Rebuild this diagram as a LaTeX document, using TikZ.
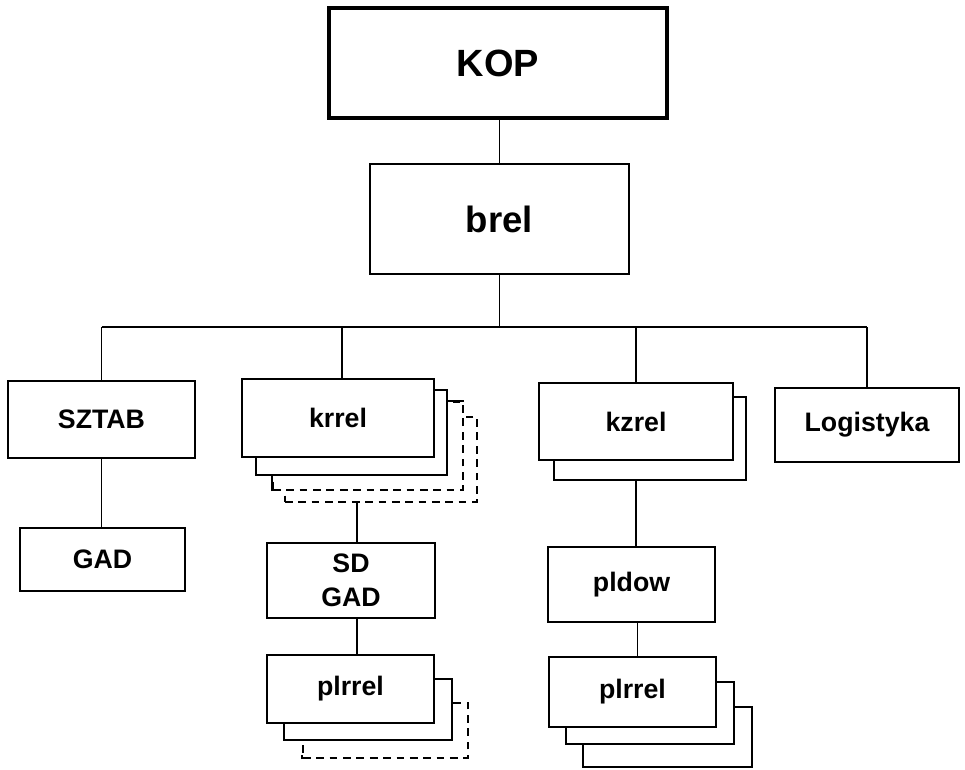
\documentclass[tikz,border=0pt]{standalone}
\usepackage{fontspec}
\setmainfont{Liberation Sans}
\newcommand{\px}{0.025cm}
\tikzset{
  box/.style={draw, line width=1.5pt, fill=white, inner sep=0pt, align=center,
    font=\bfseries\fontsize{19}{24}\selectfont},
  layer/.style={draw, line width=1.5pt, fill=white, inner sep=0pt},
  dashlayer/.style={layer, dash pattern=on 5.5pt off 4pt},
  link/.style={line width=0.9pt}
}
\begin{document}
\begin{tikzpicture}[x=\px, y=-\px]
          \useasboundingbox (0,0) rectangle (965,769);
          % top of the tree
          \node [box, line width=2.4pt, minimum width=338*\px, minimum height=110*\px,
                 font=\bfseries\fontsize{27}{30}\selectfont] (KOP) at (498,63) {KOP};
          \node [box, minimum width=259*\px, minimum height=110*\px,
                 font=\bfseries\fontsize{26}{30}\selectfont] (brel) at (499.5,219) {brel};
          \coordinate (bus) at (500,327);
          % left column
          \node [box, minimum width=187*\px, minimum height=77*\px] (SZTAB) at (101.5,419.5) {SZTAB};
          \node [box, minimum width=165*\px, minimum height=63*\px] (GAD) at (102.5,559.5) {GAD};
          % krrel stack
          \node [dashlayer, minimum width=192*\px, minimum height=85*\px] (krrelD) at (381,459.5) {};
          \node [dashlayer, minimum width=190*\px, minimum height=88*\px] (krrelC) at (368,446) {};
          \draw [line width=1.5pt] (krrelC.south west) |- (krrelC.north east);
          \node [layer, minimum width=191*\px, minimum height=85*\px] (krrelB) at (351.5,432.5) {};
          \node [box, minimum width=192*\px, minimum height=78*\px] (krrel) at (338,418) {krrel};
          \node [box, minimum width=168*\px, minimum height=75*\px] (SDGAD) at (351,580.5) {SD\\GAD};
          % plrrel stack under SD GAD
          \node [dashlayer, minimum width=165*\px, minimum height=55*\px] (plrrelLC) at (385.5,730.5) {};
          \draw [line width=1.5pt] (plrrelLC.south west) -- ++(0,-4);
          \node [layer, minimum width=168*\px, minimum height=61*\px] (plrrelLB) at (368,709.5) {};
          \node [box, minimum width=167*\px, minimum height=68*\px] (plrrelL) at (350.5,689) {plrrel};
          % kzrel stack
          \node [layer, minimum width=192*\px, minimum height=83*\px] (kzrelB) at (650,438.5) {};
          \node [box, minimum width=194*\px, minimum height=77*\px] (kzrel) at (636,421.5) {kzrel};
          \node [box, minimum width=167*\px, minimum height=75*\px] (pldow) at (631.5,584.5) {pldow};
          % plrrel stack under pldow
          \node [layer, minimum width=169*\px, minimum height=60*\px] (plrrelRC) at (667.5,737) {};
          \node [layer, minimum width=168*\px, minimum height=62*\px] (plrrelRB) at (650,713) {};
          \node [box, minimum width=167*\px, minimum height=70*\px] (plrrelR) at (632.5,692) {plrrel};
          % right column
          \node [box, minimum width=184*\px, minimum height=74*\px] (Logistyka) at (867,425) {Logistyka};
          % connectors
          \draw [link] (brel.north) -- (brel.north |- KOP.south);
          \draw [link] (brel.south) -- (brel.south |- bus);
          \draw [link] (SZTAB.north |- bus) -- (Logistyka.north |- bus);
          \draw [link] (SZTAB.north) -- (SZTAB.north |- bus);
          \draw [link] ([xshift=4*\px]krrel.north) -- ([xshift=4*\px]krrel.north |- bus);
          \draw [link] (kzrel.north) -- (kzrel.north |- bus);
          \draw [link] (Logistyka.north) -- (Logistyka.north |- bus);
          \draw [link] (SZTAB.south) -- (SZTAB.south |- GAD.north);
          \draw [link] ([xshift=6*\px]SDGAD.north) -- ([xshift=6*\px]SDGAD.north |- krrelD.south);
          \draw [link] ([xshift=6*\px]SDGAD.south) -- ([xshift=6*\px]SDGAD.south |- plrrelL.north);
          \draw [link] (kzrel.south |- kzrelB.south) -- (kzrel.south |- pldow.north);
          \draw [link] ([xshift=6*\px]pldow.south) -- ([xshift=6*\px]pldow.south |- plrrelR.north);
          \end{tikzpicture}
\end{document}
